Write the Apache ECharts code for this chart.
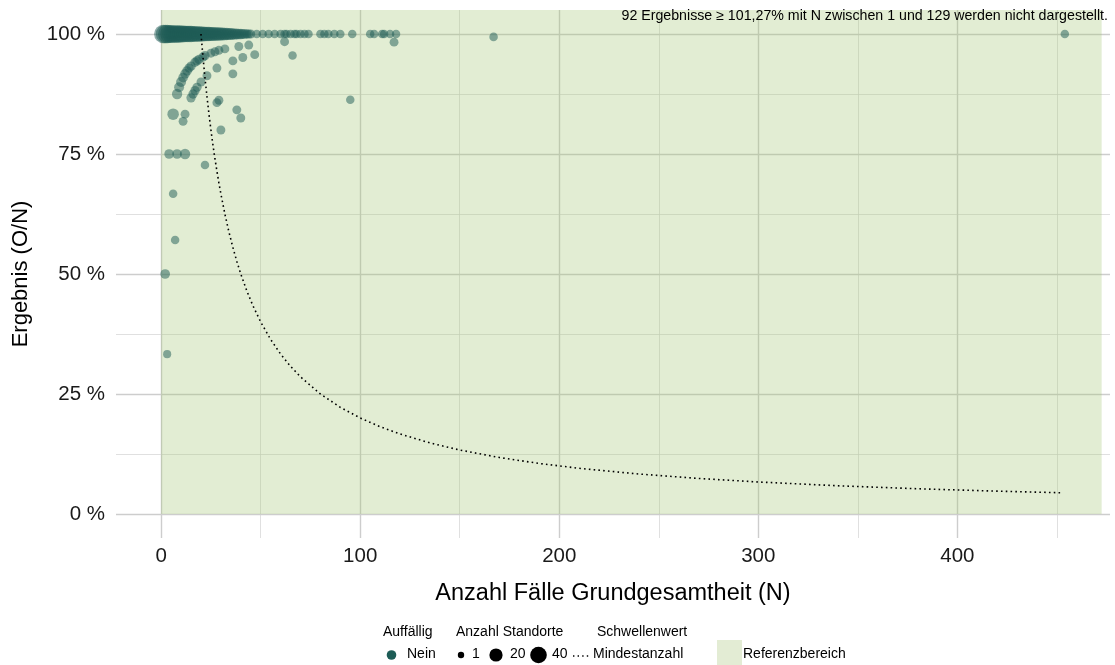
<!DOCTYPE html>
<html>
<head>
<meta charset="utf-8">
<script src="https://cdn.jsdelivr.net/npm/echarts@6/dist/echarts.min.js"></script>
<style>
html,body{margin:0;padding:0;background:#fff;}
#chart{width:1115px;height:665px;}
</style>
</head>
<body>
<div id="chart"></div>
<script>
// ---- data ----
const nValues = [
  1,2,3,4,5,6,7,8,9,10,11,12,13,14,15,16,17,18,19,20,21,22,23,24,25,26,27,28,29,30,31,32,33,34,35,36,37,38,39,40,41,42,43,44,45,
  48,51,54,57,60,62,63,65,67,68,70,72,74,80,82,84,87,90,96,105,107,111,112,115,118,
  8,9,10,11,12,13,14,15,17,18,19,21,22,25,27,29,32,39,44,
  15,16,17,18,20,23,
  28,36,36,41,47,29,28,38,40,30,6,12,11,4,8,12,22,6,7,2,3,62,66,95,117,167,454
];
const pctValues = [
  100,100,100,100,100,100,100,100,100,100,100,100,100,100,100,100,100,100,100,100,100,100,100,100,100,100,100,100,100,100,100,100,100,100,100,100,100,100,100,100,100,100,100,100,100,
  100,100,100,100,100,100,100,100,100,100,100,100,100,100,100,100,100,100,100,100,100,100,100,100,100,
  87.5,88.9,90,90.9,91.7,92.3,92.9,93.3,94.1,94.4,94.7,95.2,95.5,96,96.3,96.6,96.9,97.4,97.7,
  86.7,87.5,88.2,88.9,90,91.3,
  92.9,91.7,94.4,95.1,95.7,86.2,85.7,84.2,82.5,80,83.3,83.3,81.8,75,75,75,72.7,66.7,57.1,50,33.3,98.4,95.5,86.3,98.3,99.4,100
];
const sitesValues = [
  50,52,50,48,48,46,46,45,44,42,42,40,40,38,38,36,35,34,33,32,31,30,29,28,27,26,25,24,23,22,21,20,19,18,17,16,15,14,13,12,11,10,9,8,8,
  7,7,7,7,7,7,7,7,7,7,7,7,7,7,7,7,7,7,7,7,7,7,7,7,7,
  12,11,11,10,10,10,9,9,9,9,9,9,9,8,8,8,8,8,8,
  9,9,9,9,8,8,
  8,8,8,8,8,8,8,8,8,8,16,8,8,10,10,12,7,7,7,10,6,8,7,7,8,7,7
];
// Mindestanzahl threshold curve
const thresholdN   = [20,21,22,23,24,25,26,27,28,29,30,32,34,36,38,40,43,46,50,55,60,65,70,80,90,100,110,120,135,150,170,190,210,240,270,300,340,380,420,453];
const thresholdPct = [100,95.24,90.91,86.96,83.33,80,76.92,74.07,71.43,68.97,66.67,62.5,58.82,55.56,52.63,50,46.51,43.48,40,36.36,33.33,30.77,28.57,25,22.22,20,18.18,16.67,14.81,13.33,11.76,10.53,9.52,8.33,7.41,6.67,5.88,5.26,4.76,4.42];
// axis breaks / tick labels
const xLabels = [0,100,200,300,400];
const xMinorBreaks = [50,150,250,350,450];
const yLabels = [0,25,50,75,100];
const yMinorBreaks = [12.5,37.5,62.5,87.5];
// reference range
const refRangeX = [0, 472.5];
const refRangeY = [0, 105];

const points = nValues.map((n,i)=>[n, pctValues[i], sitesValues[i]]);
const threshold = thresholdN.map((n,i)=>[n, thresholdPct[i]]);

const FONT = 'Liberation Sans, Arial, sans-serif';
const TEAL = '#1d5c56';

const chart = echarts.init(document.getElementById('chart'), null, {renderer:'canvas'});

const gridMarkLine = (xs, ys, width, color) => ({
  silent:true, symbol:'none', z:0, animation:false,
  label:{show:false},
  lineStyle:{color:color, width:width, type:'solid'},
  emphasis:{disabled:true},
  data: xs.map(v=>({xAxis:v})).concat(ys.map(v=>({yAxis:v})))
});

chart.setOption({
  animation:false,
  grid:{left:116, right:5, top:10, bottom:127, containLabel:false},
  xAxis:{
    type:'value', min:-22.7, max:476.7,
    axisLine:{show:false}, axisTick:{show:false}, splitLine:{show:false},
    axisLabel:{customValues:xLabels, fontSize:20.5, color:'#1a1a1a', margin:8, fontFamily:FONT},
    name:'Anzahl Fälle Grundgesamtheit (N)', nameLocation:'middle', nameGap:44,
    nameTextStyle:{fontSize:23.5, color:'#000', fontFamily:FONT}
  },
  yAxis:{
    type:'value', min:-5, max:105,
    axisLine:{show:false}, axisTick:{show:false}, splitLine:{show:false},
    axisLabel:{customValues:yLabels, formatter:v=>v+' %', fontSize:20.5, color:'#1a1a1a', margin:11, fontFamily:FONT},
    name:'Ergebnis (O/N)', nameLocation:'middle', nameGap:84,
    nameTextStyle:{fontSize:22, color:'#000', fontFamily:FONT}
  },
  series:[
    {type:'scatter', data:[], z:0, silent:true,
      markLine:gridMarkLine(xMinorBreaks, yMinorBreaks, 0.8, '#d8d8d8')},
    {type:'scatter', data:[], z:0, silent:true,
      markLine:gridMarkLine(xLabels, yLabels, 1.4, '#cdcdcd')},
    {type:'scatter', data:[], z:1, silent:true,
      markArea:{silent:true, z:1, itemStyle:{color:'rgba(160,195,110,0.3)'},
        data:[[{xAxis:refRangeX[0], yAxis:refRangeY[0]},{xAxis:refRangeX[1], yAxis:refRangeY[1]}]]}},
    {type:'scatter', z:3, data:points,
      symbol:'circle',
      symbolSize:v=>2.7+2.2*Math.sqrt(v[2]),
      itemStyle:{color:TEAL, opacity:0.5},
      emphasis:{disabled:true}},
    {type:'line', z:4, data:threshold, showSymbol:false, smooth:false,
      lineStyle:{color:'#000', width:1.6, type:[1.6,3.2], cap:'butt'},
      emphasis:{disabled:true}}
  ],
  graphic:[
    {type:'text', right:7, top:9, z:10,
      style:{text:'92 Ergebnisse ≥ 101,27% mit N zwischen 1 und 129 werden nicht dargestellt.', fontSize:14.2, fill:'#000', fontFamily:FONT}},
    // legend
    {type:'text', left:383, top:625, style:{text:'Auffällig', fontSize:14, fill:'#000', fontFamily:FONT}},
    {type:'circle', shape:{cx:391.5, cy:655, r:4.8}, style:{fill:TEAL}},
    {type:'text', left:407, top:647, style:{text:'Nein', fontSize:14, fill:'#000', fontFamily:FONT}},
    {type:'text', left:456, top:625, style:{text:'Anzahl Standorte', fontSize:14, fill:'#000', fontFamily:FONT}},
    {type:'circle', shape:{cx:461, cy:655, r:3.2}, style:{fill:'#000'}},
    {type:'text', left:472, top:647, style:{text:'1', fontSize:14, fill:'#000', fontFamily:FONT}},
    {type:'circle', shape:{cx:496, cy:655, r:6.6}, style:{fill:'#000'}},
    {type:'text', left:510, top:647, style:{text:'20', fontSize:14, fill:'#000', fontFamily:FONT}},
    {type:'circle', shape:{cx:538.5, cy:655, r:8.3}, style:{fill:'#000'}},
    {type:'text', left:552, top:647, style:{text:'40', fontSize:14, fill:'#000', fontFamily:FONT}},
    {type:'text', left:597, top:625, style:{text:'Schwellenwert', fontSize:14, fill:'#000', fontFamily:FONT}},
    {type:'line', shape:{x1:573, y1:656, x2:591, y2:656}, style:{stroke:'#000', lineWidth:1.4, lineDash:[1.4,3.2]}},
    {type:'text', left:593, top:647, style:{text:'Mindestanzahl', fontSize:14, fill:'#000', fontFamily:FONT, letterSpacing:1}},
    {type:'rect', shape:{x:717, y:640, width:25, height:25}, style:{fill:'#e3ecd4'}},
    {type:'text', left:743, top:647, style:{text:'Referenzbereich', fontSize:14, fill:'#000', fontFamily:FONT}}
  ]
});
</script>
</body>
</html>
